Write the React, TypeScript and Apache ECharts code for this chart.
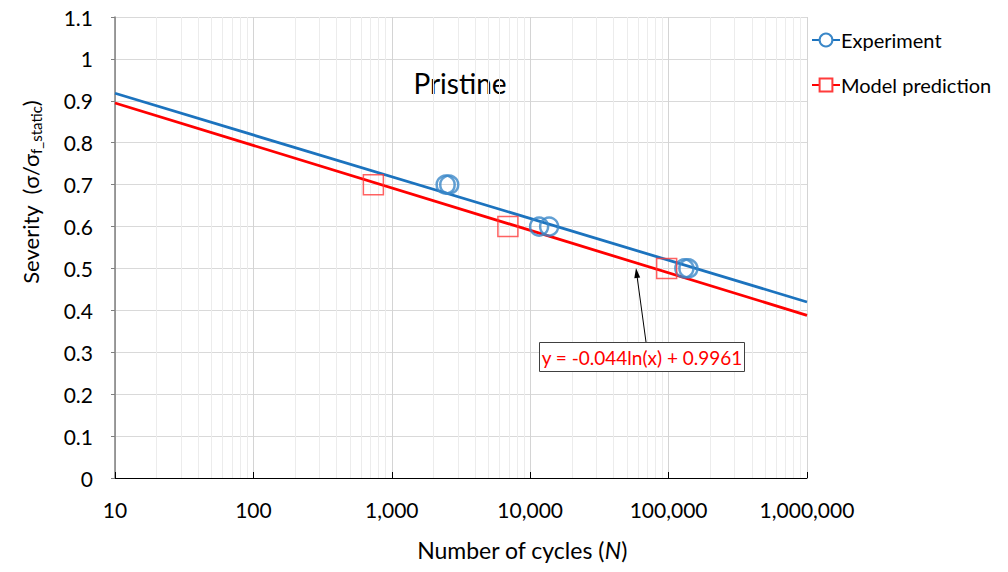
import React, { useEffect, useRef } from "react";
import * as echarts from "echarts";

const FONT = "Lato, 'Liberation Sans', sans-serif";

// Experimental data (cycles, severity)
const experimentX = [2450, 2600, 11600, 13700, 130000, 139000];
const experimentY = [0.7, 0.7, 0.6, 0.6, 0.5, 0.5];

// Model prediction points
const modelX = [736, 6900, 96800];
const modelY = [0.7, 0.6, 0.5];

// Logarithmic trendlines (end points)
const trendX = [10, 1000000];
const experimentTrendY = [0.918, 0.42];
const modelTrendY = [0.8948, 0.3882];

// Axis ticks
const decades = [10, 100, 1000, 10000, 100000, 1000000];
const yTicks = [0, 0.1, 0.2, 0.3, 0.4, 0.5, 0.6, 0.7, 0.8, 0.9, 1, 1.1];

const equationText = "y = -0.044ln(x) + 0.9961";
const titleText = "Pristine";

export default function App() {
  const ref = useRef<HTMLDivElement>(null);

  useEffect(() => {
    if (!ref.current) return;
    const chart = echarts.init(ref.current, null, { renderer: "svg" });

    const minorLines: { xAxis: number }[] = [];
    for (let i = 0; i < decades.length - 1; i++) {
      for (let m = 2; m <= 9; m++) minorLines.push({ xAxis: decades[i] * m });
    }

    const zip = (xs: number[], ys: number[]) => xs.map((x, i) => [x, ys[i]]);

    const option: any = {
      animation: false,
      backgroundColor: "#ffffff",
      textStyle: { fontFamily: FONT },
      grid: { left: 115, right: 201, top: 17, bottom: 94 },
      legend: {
        orient: "vertical",
        left: 806,
        top: 25,
        itemWidth: 28,
        itemHeight: 16,
        itemGap: 25,
        textStyle: { fontSize: 20, color: "#000", fontFamily: FONT, padding: [0, 0, 0, -4] },
        data: ["Experiment", "Model prediction"],
      },
      xAxis: {
        type: "log",
        logBase: 10,
        min: decades[0],
        max: decades[decades.length - 1],
        name: "{a|Number of cycles (}{i|N}{a|)}",
        nameLocation: "middle",
        nameGap: 60,
        nameTextStyle: {
          padding: [0, 0, 0, 122],
          rich: {
            a: { fontSize: 23, color: "#000", fontFamily: FONT },
            i: { fontSize: 23, color: "#000", fontFamily: FONT, fontStyle: "italic" },
          },
        },
        axisLine: { show: true, lineStyle: { color: "#000", width: 1 } },
        axisTick: { show: true, inside: true, length: 6, lineStyle: { color: "#000" } },
        axisLabel: {
          margin: 21,
          fontSize: 21,
          color: "#000",
          fontFamily: FONT,
          formatter: (v: number) => Math.round(v).toLocaleString("en-US"),
        },
        splitLine: { show: true, lineStyle: { color: "#d4d4d4", width: 1 } },
      },
      yAxis: {
        type: "value",
        min: yTicks[0],
        max: yTicks[yTicks.length - 1],
        interval: 0.1,
        axisLine: { show: true, lineStyle: { color: "#7f7f7f", width: 1.5 } },
        axisTick: { show: true, length: 4, lineStyle: { color: "#7f7f7f" } },
        axisLabel: {
          margin: 22,
          fontSize: 21,
          color: "#000",
          fontFamily: FONT,
          formatter: (v: number) => String(Math.round(v * 10) / 10),
        },
        splitLine: { show: true, lineStyle: { color: "#d9d9d9", width: 1 } },
      },
      series: [
        {
          name: "minor-grid",
          type: "line",
          data: [],
          z: 1,
          silent: true,
          markLine: {
            z: 1,
            silent: true,
            symbol: "none",
            label: { show: false },
            lineStyle: { color: "#ececec", width: 1, type: "solid" },
            data: minorLines,
          },
        },
        {
          name: "Experiment",
          type: "line",
          data: zip(trendX, experimentTrendY),
          showSymbol: false,
          symbol: "circle",
          symbolSize: 14,
          itemStyle: { color: "#ffffff", borderColor: "#3A87C8", borderWidth: 2 },
          lineStyle: { color: "#1C73BE", width: 2.8 },
          z: 6,
          silent: true,
        },
        {
          name: "Model prediction",
          type: "line",
          data: zip(trendX, modelTrendY),
          showSymbol: false,
          symbol: "rect",
          symbolSize: 15,
          itemStyle: { color: "#ffffff", borderColor: "#FF3B3B", borderWidth: 1.5 },
          lineStyle: { color: "#FF0000", width: 2.8 },
          z: 6,
          silent: true,
        },
        {
          name: "Experiment",
          type: "scatter",
          data: zip(experimentX, experimentY),
          symbol: "circle",
          symbolSize: 18,
          itemStyle: { color: "rgba(0,0,0,0)", borderColor: "#3A87C8", borderWidth: 2.5 },
          z: 7,
        },
        {
          name: "Model prediction",
          type: "scatter",
          data: zip(modelX, modelY),
          symbol: "rect",
          symbolSize: 20,
          itemStyle: { color: "rgba(0,0,0,0)", borderColor: "#FF3B3B", borderWidth: 1.5 },
          z: 7,
        },
      ],
      graphic: [
        {
          type: "text",
          x: 460,
          y: 83,
          style: {
            text: titleText,
            fontSize: 28,
            fontFamily: FONT,
            fill: "#000",
            align: "center",
            verticalAlign: "middle",
          },
        },
        {
          type: "text",
          x: 30,
          y: 192,
          rotation: Math.PI / 2,
          style: {
            text: "{a|Severity  (σ/σ}{b|f_static}{a|)}",
            align: "center",
            verticalAlign: "middle",
            rich: {
              a: { fontSize: 22, fontFamily: FONT, fill: "#000", lineHeight: 28 },
              b: { fontSize: 15, fontFamily: FONT, fill: "#000", padding: [12, 0, 0, 0], lineHeight: 28 },
            },
          },
        },
        {
          type: "line",
          z: 10,
          shape: { x1: 646, y1: 342, x2: 637, y2: 276 },
          style: { stroke: "#000", lineWidth: 1 },
        },
        {
          type: "polygon",
          z: 10,
          shape: { points: [[636, 268], [640.2, 277.5], [634.3, 278.3]] },
          style: { fill: "#000" },
        },
        {
          type: "rect",
          z: 10,
          shape: { x: 539.5, y: 342.5, width: 205, height: 29 },
          style: { fill: "#ffffff", stroke: "#404040", lineWidth: 1 },
        },
        {
          type: "text",
          z: 11,
          x: 642,
          y: 357,
          style: {
            text: equationText,
            fontSize: 19,
            fontFamily: FONT,
            fill: "#FF0000",
            align: "center",
            verticalAlign: "middle",
          },
        },
      ],
    };

    chart.setOption(option);
    return () => chart.dispose();
  }, []);

  return <div ref={ref} style={{ width: 1008, height: 572, margin: -8 }} />;
}
